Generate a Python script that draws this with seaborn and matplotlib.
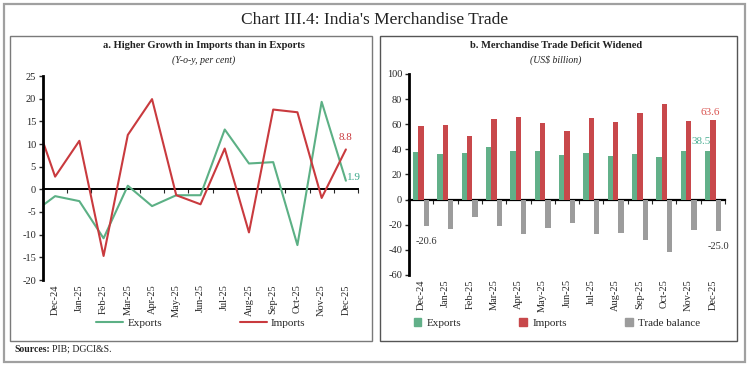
import numpy as np
import pandas as pd
import matplotlib
matplotlib.use("Agg")
import matplotlib.pyplot as plt
from matplotlib.patches import Rectangle, Patch
from matplotlib.lines import Line2D
import seaborn as sns

# ---------------- data ----------------
months = ['Dec-24', 'Jan-25', 'Feb-25', 'Mar-25', 'Apr-25', 'May-25', 'Jun-25',
          'Jul-25', 'Aug-25', 'Sep-25', 'Oct-25', 'Nov-25', 'Dec-25']
# growth series include the preceding month (Nov-24), which is clipped at the axis edge
growth_months = ['Nov-24'] + months
exports_growth = [-5.5, -1.5, -2.6, -10.8, 0.8, -3.7, -1.3, -1.3, 13.2, 5.7, 6.0, -12.3, 19.3, 1.9]
imports_growth = [18.2, 2.8, 10.7, -14.7, 12.0, 19.9, -1.3, -3.3, 9.0, -9.5, 17.6, 17.0, -1.9, 8.8]

exports_bn = [38.3, 36.4, 36.9, 42.0, 38.5, 38.7, 35.3, 37.3, 35.1, 36.5, 34.3, 38.4, 38.5]
imports_bn = [58.9, 59.6, 51.0, 63.8, 65.4, 61.0, 54.4, 65.2, 62.0, 69.0, 76.3, 62.8, 63.6]
balance_bn = [-20.6, -23.0, -14.1, -21.3, -27.0, -22.3, -18.8, -27.3, -26.8, -32.5, -41.8, -24.3, -25.0]

GREEN_L = '#5cb085'
RED_L = '#c93a3e'
GREEN_B = '#62b089'
RED_B = '#c8484b'
GRAY_B = '#9c9c9c'

sns.set_style('white')
plt.rcParams['font.family'] = ['Liberation Serif', 'DejaVu Serif']
plt.rcParams['axes.unicode_minus'] = False

W, H = 749, 366
fig = plt.figure(figsize=(W / 100, H / 100), dpi=100)

def fx(px):
    return px / W

def fy(py):
    return 1 - py / H

# outer frame and panel boxes
fig.patches.append(Rectangle((fx(4), fy(362)), fx(741), (358) / H, transform=fig.transFigure,
                             fill=False, edgecolor='#a0a0a0', linewidth=1.6))
fig.patches.append(Rectangle((fx(10), fy(341)), fx(362), (305) / H, transform=fig.transFigure,
                             fill=False, edgecolor='#7a7a7a', linewidth=1.0))
fig.patches.append(Rectangle((fx(380), fy(341)), fx(357), (305) / H, transform=fig.transFigure,
                             fill=False, edgecolor='#555555', linewidth=1.0))

fig.text(fx(375), fy(20), "Chart III.4: India's Merchandise Trade", ha='center', va='center',
         fontsize=12.5, color='#222222')

fig.text(fx(204), fy(46), 'a. Higher Growth in Imports than in Exports', ha='center', va='center',
         fontsize=7.6, fontweight='bold', color='#222222')
fig.text(fx(204), fy(60), '(Y-o-y, per cent)', ha='center', va='center',
         fontsize=7, style='italic', color='#222222')
fig.text(fx(556), fy(46), 'b. Merchandise Trade Deficit Widened', ha='center', va='center',
         fontsize=7.6, fontweight='bold', color='#222222')
fig.text(fx(556), fy(60), '(US$ billion)', ha='center', va='center',
         fontsize=7, style='italic', color='#222222')

# ---------------- left panel ----------------
ax1 = fig.add_axes([fx(43), fy(280), (358 - 43) / W, (280 - 76) / H])
gdf = pd.DataFrame({'pos': np.arange(-1, len(months)),
                    'Exports': exports_growth, 'Imports': imports_growth})
sns.lineplot(data=gdf, x='pos', y='Exports', color=GREEN_L, linewidth=1.5, ax=ax1)
sns.lineplot(data=gdf, x='pos', y='Imports', color=RED_L, linewidth=1.5, ax=ax1)
ax1.set_xlim(-0.5, len(months) - 0.5)
ax1.set_ylim(-20, 25)
ax1.set_yticks(np.arange(-20, 26, 5))
ax1.set_xticks(np.arange(len(months)))
ax1.set_xticklabels(months, rotation=90, fontsize=7.5)
ax1.set_xlabel('')
ax1.set_ylabel('')
for s in ['top', 'right', 'bottom']:
    ax1.spines[s].set_visible(False)
ax1.spines['left'].set_linewidth(2)
ax1.spines['left'].set_color('black')
ax1.tick_params(axis='x', length=0, pad=3)
ax1.tick_params(axis='y', length=3, width=1, direction='out', labelsize=7.5, pad=2, left=True)
sec1 = ax1.secondary_xaxis(0, transform=ax1.transData)
sec1.set_xticks(np.arange(-0.5, len(months), 1))
sec1.tick_params(axis='x', length=3, width=0.8, direction='out', labelbottom=False)
sec1.spines['bottom'].set_linewidth(1.4)
sec1.spines['bottom'].set_color('black')

last = len(months) - 1
ax1.annotate(f'{imports_growth[-1]:.1f}', (last, imports_growth[-1]), xytext=(0, 5),
             textcoords='offset points', ha='center', va='bottom', color=RED_L, fontsize=8)
ax1.annotate(f'{exports_growth[-1]:.1f}', (last, exports_growth[-1]), xytext=(1, 2),
             textcoords='offset points', ha='left', va='center', color='#3aa88a', fontsize=8)

fig.legend(handles=[Line2D([], [], color=GREEN_L, lw=1.5), Line2D([], [], color=RED_L, lw=1.5)],
           labels=['Exports', 'Imports'], loc='center', bbox_to_anchor=(fx(201), fy(323)),
           ncol=2, frameon=False, fontsize=8, handlelength=2.4, handletextpad=0.4,
           columnspacing=7.0)

# ---------------- right panel ----------------
ax2 = fig.add_axes([fx(409), fy(275), (725 - 409) / W, (275 - 74) / H])
bdf = pd.DataFrame({'month': months * 3,
                    'series': ['Exports'] * len(months) + ['Imports'] * len(months)
                              + ['Trade balance'] * len(months),
                    'value': exports_bn + imports_bn + balance_bn})
sns.barplot(data=bdf, x='month', y='value', hue='series', order=months,
            hue_order=['Exports', 'Imports', 'Trade balance'],
            palette=[GREEN_B, RED_B, GRAY_B], width=0.66, gap=0, saturation=1,
            linewidth=0, legend=False, ax=ax2)
ax2.set_xlim(-0.5, len(months) - 0.5)
ax2.set_ylim(-60, 100)
ax2.set_yticks(np.arange(-60, 101, 20))
ax2.set_xticks(np.arange(len(months)))
ax2.set_xticklabels(months, rotation=90, fontsize=7.5)
ax2.set_xlabel('')
ax2.set_ylabel('')
for s in ['top', 'right', 'bottom']:
    ax2.spines[s].set_visible(False)
ax2.spines['left'].set_linewidth(2)
ax2.spines['left'].set_color('black')
ax2.tick_params(axis='x', length=0, pad=3)
ax2.tick_params(axis='y', length=3, width=1, direction='out', labelsize=7.5, pad=2, left=True)
sec2 = ax2.secondary_xaxis(0, transform=ax2.transData)
sec2.set_xticks(np.arange(-0.5, len(months), 1))
sec2.tick_params(axis='x', length=3, width=0.8, direction='out', labelbottom=False)
sec2.spines['bottom'].set_linewidth(1.6)
sec2.spines['bottom'].set_color('black')

bw = 0.66 / 3
ax2.annotate(f'{balance_bn[0]:.1f}', (0 + bw, balance_bn[0]), xytext=(0, -8),
             textcoords='offset points', ha='center', va='top', color='#333333', fontsize=7.5)
ax2.annotate(f'{balance_bn[-1]:.1f}', (last + bw, balance_bn[-1]), xytext=(0, -8),
             textcoords='offset points', ha='center', va='top', color='#333333', fontsize=7.5)
ax2.annotate(f'{imports_bn[-1]:.1f}', (last, imports_bn[-1]), xytext=(-2, 2),
             textcoords='offset points', ha='center', va='bottom', color='#d9534f', fontsize=8)
ax2.annotate(f'{exports_bn[-1]:.1f}', (last - bw, exports_bn[-1]), xytext=(2, 4),
             textcoords='offset points', ha='right', va='bottom', color='#4fb096', fontsize=8)

fig.legend(handles=[Patch(color=GREEN_B), Patch(color=RED_B), Patch(color=GRAY_B)],
           labels=['Exports', 'Imports', 'Trade balance'], loc='center',
           bbox_to_anchor=(fx(557), fy(323)), ncol=3, frameon=False, fontsize=8,
           handlelength=0.7, handleheight=0.7, handletextpad=0.5, columnspacing=5.2)

src_bold = fig.text(fx(14), fy(349), 'Sources:', ha='left', va='center', fontsize=7,
                    fontweight='bold', color='#222222')
renderer = fig.canvas.get_renderer()
bb = src_bold.get_window_extent(renderer=renderer)
fig.text((bb.x1 + 2) / W, fy(349), 'PIB; DGCI&S.', ha='left', va='center', fontsize=7,
         color='#222222')

fig.savefig('out.png', dpi=100, facecolor='white')
